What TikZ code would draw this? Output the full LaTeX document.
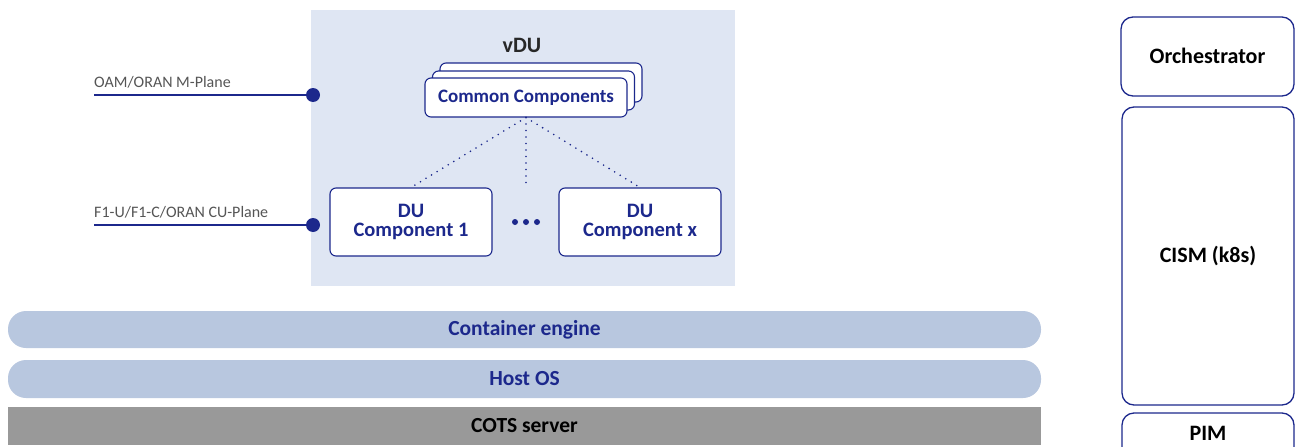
\documentclass[tikz,border=0pt]{standalone}
\usepackage{fontspec}
\setmainfont{Carlito}
\definecolor{navy}{RGB}{28,40,140}
\definecolor{vbg}{RGB}{223,230,243}
\definecolor{barblue}{RGB}{184,199,223}
\definecolor{cotsgray}{RGB}{153,153,153}
\definecolor{labelgray}{RGB}{85,85,85}
\definecolor{titlegray}{RGB}{40,40,40}
\tikzset{
  compbox/.style={draw=navy, fill=white, rounded corners=6pt, line width=1.1pt,
    text=navy, font=\bfseries\fontsize{20.5}{20.5}\selectfont, align=center, inner sep=0pt},
  stackbox/.style={draw=navy, fill=white, rounded corners=6pt, line width=1.1pt,
    minimum width=202pt, minimum height=39pt, inner sep=0pt},
  bar/.style={fill=barblue, rounded corners=18pt},
  bartext/.style={text=navy, font=\bfseries\fontsize{21.5}{21.5}\selectfont},
  sidebox/.style={draw=navy, line width=1.3pt, rounded corners=12pt},
  sidetext/.style={text=black, font=\bfseries\fontsize{22}{22}\selectfont},
  dotline/.style={navy, line width=1.8pt, line cap=round, dash pattern=on 0pt off 6.5pt},
  ifline/.style={navy, line width=1.6pt},
  ifdot/.style={circle, fill=navy, minimum size=14pt, inner sep=0pt},
  iflabel/.style={text=labelgray, font=\fontsize{16}{16}\selectfont, anchor=base west, inner sep=0pt}
}
\begin{document}
\begin{tikzpicture}[x=1pt,y=-1pt]
\useasboundingbox (0,0) rectangle (1296,447);
% vDU background
\fill[vbg] (311,10) rectangle (735,286);
\node[font=\bfseries\fontsize{22}{22}\selectfont, text=titlegray] (vdu) at (522,45) {vDU};
% Common components stack
\node[stackbox] (cc3) at (541,82.5) {};
\node[stackbox] (cc2) at (533.5,90.5) {};
\node[stackbox, text=navy, font=\bfseries\fontsize{19}{19}\selectfont] (cc) at (526,97.5) {Common Components};
% DU components
\node[compbox, minimum width=162pt, minimum height=68pt] (du1) at (411,222) {DU\\[-1pt]Component 1};
\node[compbox, minimum width=162pt, minimum height=68pt] (dux) at (640,222) {DU\\[-1pt]Component x};
% ellipsis dots
\fill[navy] (515,222) circle (3pt) (526,222) circle (3pt) (537,222) circle (3pt);
% dotted links
\coordinate (mid) at (526,187);
\draw[dotline] (cc.south) -- (du1.north);
\draw[dotline] (cc.south) -- (mid);
\draw[dotline] (cc.south) -- (dux.north);
% interfaces
\node[ifdot] (p1) at (313,95) {};
\node[ifdot] (p2) at (313,225) {};
\coordinate (l1) at (94,95);
\coordinate (l2) at (94,225);
\draw[ifline] (l1) -- (p1.center);
\draw[ifline] (l2) -- (p2.center);
\node[iflabel] (t1) at (94,87) {OAM/ORAN M-Plane};
\node[iflabel] (t2) at (94,217) {F1-U/F1-C/ORAN CU-Plane};
% bars
\path[bar] (8,311) rectangle (1041,348);
\node[bartext] (ce) at (524.5,329.5) {Container engine};
\path[bar] (8,360) rectangle (1041,398);
\node[bartext] (hos) at (524.5,379) {Host OS};
\fill[cotsgray] (8,407) rectangle (1041,445);
\node[bartext, text=black] (cots) at (524.5,426) {COTS server};
% right column
\draw[sidebox] (1121,17) rectangle (1294,96);
\node[sidetext] (orch) at (1207.5,56) {Orchestrator};
\draw[sidebox] (1122,107) rectangle (1294,405);
\node[sidetext] (cism) at (1208,256) {CISM (k8s)};
\draw[sidebox] (1122,413) rectangle (1294,470);
\node[sidetext] (pim) at (1208,433) {PIM};
\end{tikzpicture}
\end{document}
